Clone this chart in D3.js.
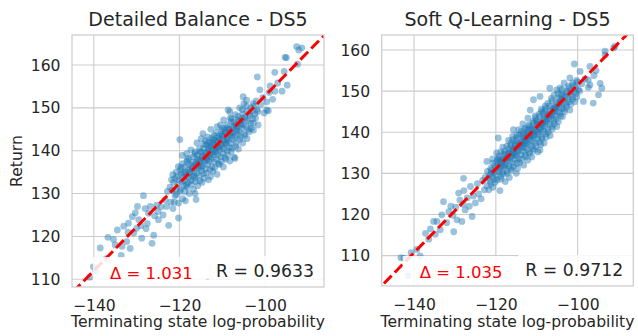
<!DOCTYPE html>
<html><head><meta charset="utf-8">
<script src="https://cdn.jsdelivr.net/npm/d3@7"></script>
<style>
body{margin:0;background:#fff;}
text{font-family:"DejaVu Sans",sans-serif;fill:#262626;}
</style></head>
<body>
<svg id="chart" width="638" height="336"></svg>
<script>
const titles = ["Detailed Balance - DS5", "Soft Q-Learning - DS5"];
const xLabel = "Terminating state log-probability";
const yLabel = "Return";
const xTicks = [-140, -120, -100];
const yTicks = [110, 120, 130, 140, 150, 160];
const deltaLabels = ["\u0394 = 1.031", "\u0394 = 1.035"];
const rLabels = ["R = 0.9633", "R = 0.9712"];
const fitDB = [[-150, 101.8], [-80, 173.2]];
const fitSQL = [[-150, 100.5], [-80, 171.9]];

const dbPoints = [
[-141.0,110.5],[-140.1,112.9],[-139.5,111.9],[-138.5,117.3],[-137.1,114.8],[-136.7,119.8],[-135.4,119.3],[-135.0,118.0],[-133.6,115.6],[-133.4,117.7],
[-132.3,118.8],[-131.5,117.2],[-130.7,120.8],[-131.9,123.1],[-130.3,125.5],[-129.5,123.9],[-128.8,119.6],[-128.4,129.5],[-127.2,125.4],[-126.4,118.4],
[-126.0,120.3],[-125.3,127.3],[-124.9,123.9],[-123.3,128.5],[-122.5,122.6],[-120.2,124.3],[-118.6,128.3],[-116.3,130.0],[-116.1,128.6],
[-134.5,121.5],[-133.0,122.4],[-132.0,121.0],[-130.0,121.9],[-129.0,122.5],[-128.0,126.5],[-127.5,123.0],[-126.8,127.0],[-125.8,124.8],[-125.0,125.8],
[-124.3,126.9],[-123.8,125.0],[-123.0,127.0],[-122.8,130.5],[-122.0,128.0],[-121.5,126.5],[-121.0,129.5],[-127.8,121.8],[-129.8,127.0],[-131.0,124.6],
[-122.2,131.5],[-121.85,133.2],[-121.7,130.8],[-121.35,132.6],[-121.55,134.4],[-121.2,128.0],[-120.85,131.0],[-121.05,133.5],[-120.75,135.0],
[-120.7,129.8],[-120.35,132.2],[-120.55,134.0],[-120.25,136.3],[-120.2,127.8],[-119.85,130.5],[-120.05,133.2],[-119.75,135.5],[-119.9,142.6],
[-119.7,131.0],[-119.35,132.8],[-119.55,134.6],[-119.25,137.0],[-119.2,128.8],[-118.85,133.0],[-119.05,134.8],[-118.75,136.2],[-119.3,138.9],
[-118.7,130.5],[-118.35,132.0],[-118.55,135.0],[-118.25,137.5],[-118.2,131.5],[-117.85,133.8],[-118.05,135.4],[-117.75,136.8],[-118.3,139.3],
[-117.7,130.0],[-117.35,133.0],[-117.55,134.8],[-117.25,136.5],[-117.8,138.2],[-117.2,132.2],[-116.85,134.0],[-117.05,135.8],[-116.75,137.4],[-117.3,140.2],
[-116.7,131.0],[-116.35,133.6],[-116.55,135.2],[-116.25,136.8],[-116.8,138.6],[-116.2,132.8],[-115.85,134.8],[-116.05,136.5],[-115.75,138.0],[-116.3,139.7],[-115.9,141.8],
[-115.7,131.8],[-115.35,134.2],[-115.55,135.9],[-115.25,137.6],[-115.8,139.0],[-115.2,133.0],[-114.85,135.3],[-115.05,137.0],[-114.75,138.4],[-115.3,140.5],[-114.9,142.8],
[-114.7,132.6],[-114.35,134.6],[-114.55,136.5],[-114.25,138.0],[-114.8,139.6],[-114.4,141.5],[-114.5,144.0],
[-114.2,133.6],[-113.85,135.8],[-114.05,137.5],[-113.75,139.0],[-114.3,140.6],[-113.9,142.4],[-113.7,134.8],[-113.35,136.8],[-113.55,138.4],[-113.25,139.8],[-113.8,141.4],[-113.4,143.2],
[-113.2,133.2],[-112.85,135.6],[-113.05,137.6],[-112.75,139.2],[-113.3,140.5],[-112.9,142.0],[-112.7,134.0],[-112.35,136.3],[-112.55,138.2],[-112.25,139.8],[-112.8,141.2],[-112.4,143.0],[-112.65,145.0],
[-112.2,135.2],[-111.85,137.4],[-112.05,139.0],[-111.75,140.4],[-112.3,141.8],[-111.9,143.6],[-111.7,136.0],[-111.35,138.0],[-111.55,139.6],[-111.25,141.0],[-111.8,142.5],[-111.4,144.2],
[-111.2,134.5],[-110.85,137.0],[-111.05,139.0],[-110.75,140.6],[-111.3,142.0],[-110.9,143.4],[-111.15,145.6],[-110.7,136.8],[-110.35,138.6],[-110.55,140.2],[-110.25,141.6],[-110.8,143.0],[-110.4,146.0],
[-110.2,137.5],[-109.85,139.4],[-110.05,141.0],[-109.75,142.4],[-110.3,143.8],[-109.9,145.2],[-109.7,136.2],[-109.35,138.4],[-109.55,140.4],[-109.25,142.0],[-109.8,143.4],[-109.4,145.0],[-109.65,147.2],
[-109.2,138.0],[-108.85,140.0],[-109.05,141.6],[-108.75,143.0],[-109.3,144.4],[-108.9,146.0],[-108.7,139.0],[-108.35,140.8],[-108.55,142.4],[-108.25,143.8],[-108.8,145.4],[-108.6,149.5],
[-108.2,137.6],[-107.85,139.8],[-108.05,141.8],[-107.75,143.5],[-108.3,145.0],[-107.9,146.8],
[-107.7,140.6],[-107.35,142.6],[-107.55,144.2],[-107.25,145.8],[-107.8,147.5],[-107.0,138.2],[-106.85,141.0],[-107.05,143.2],[-106.75,145.0],[-107.3,146.6],[-106.9,148.4],
[-106.7,141.8],[-106.35,143.8],[-106.55,145.6],[-106.25,147.2],[-106.2,140.4],[-105.85,142.6],[-106.05,144.6],[-105.75,146.2],[-106.3,148.0],[-105.9,150.0],
[-105.7,143.2],[-105.35,145.2],[-105.55,147.0],[-105.25,148.6],[-105.1,152.6],[-105.2,141.8],[-104.85,144.0],[-105.05,146.0],[-104.75,147.8],[-105.3,149.6],[-104.9,151.0],
[-104.7,143.6],[-104.35,145.6],[-104.55,147.4],[-104.25,149.2],[-104.3,151.8],[-104.2,142.8],[-103.85,145.0],[-104.05,147.0],[-103.75,148.6],[-104.3,150.4],
[-103.7,144.4],[-103.35,146.4],[-103.55,148.2],[-103.25,150.0],[-103.2,145.2],[-102.85,147.4],[-103.05,149.2],[-102.75,151.0],[-102.7,144.8],
[-102.7,146.4],[-102.35,148.6],[-102.55,150.4],[-102.2,147.6],[-101.85,149.6],[-102.05,151.6],
[-119.1,133.9],[-118.4,134.2],[-117.6,135.1],[-116.9,136.1],[-116.1,137.3],[-115.4,137.9],[-114.6,138.8],[-113.9,139.5],[-113.1,140.3],[-112.6,140.9],
[-111.9,141.3],[-111.2,142.2],[-110.6,142.6],[-109.9,143.5],[-109.1,144.2],[-108.4,144.9],[-107.6,145.3],[-106.8,146.1],[-106.1,146.9],[-105.4,147.6],
[-118.9,131.8],[-117.9,132.6],[-116.6,134.1],[-115.6,136.4],[-114.9,136.2],[-113.6,137.9],[-112.9,138.6],[-111.6,139.8],[-110.9,140.9],[-109.6,141.6],
[-108.9,142.7],[-107.9,144.1],[-106.6,144.6],[-105.6,146.2],[-119.6,136.1],[-118.1,137.9],[-116.4,139.2],[-115.1,139.8],[-113.4,141.8],[-112.1,142.6],
[-110.1,144.6],[-108.1,147.6],
[-101.7,149.1],[-101.6,146.0],[-101.2,154.2],[-101.8,157.2],[-101,150.8],[-100.5,152.4],[-100.2,148.8],[-99.6,151.4],[-99.6,149.5],[-99.2,149.3],
[-99,153.6],[-98.8,155.1],[-98.2,152.0],[-97.7,158.3],[-97.7,153.9],[-97.0,155.8],[-96.0,153.9],[-95.5,158.5],[-95.0,161.7],[-94.8,155.3],
[-92.4,160.2],[-92.1,163.5],[-91.4,164.0],[-108.2,149.1],[-107.2,138.5],[-95.3,161.8],[-92.6,164.3]
];

const sqlPoints = [
[-143.2,109.5],[-142.5,109.4],[-141.5,105.1],[-140.7,110.7],[-138.5,109.9],[-139.3,111.5],[-137.2,115.4],[-136.4,114.0],[-135.2,118.3],[-134.4,118.3],
[-133.6,116.3],[-133.2,119.9],[-132.8,123.1],[-131.5,120.7],[-130.3,115.8],[-129.5,118.7],[-129.1,125.2],[-128.3,118.3],[-127.5,121.1],[-125.8,119.5],
[-136.0,116.5],[-134.8,115.2],[-132.0,118.0],[-131.0,122.0],[-130.5,119.8],[-129.8,121.8],[-128.8,123.5],[-128.0,122.5],[-127.8,125.8],[-127.0,124.0],
[-126.5,122.0],[-126.2,126.8],[-125.5,124.5],[-125.0,122.8],[-124.5,127.5],[-124.2,125.0],[-123.6,123.8],[-123.2,128.3],[-122.8,126.0],[-122.2,132.9],[-127.9,128.8],
[-122.2,127.0],[-121.85,128.8],[-122.05,130.5],[-121.7,126.0],[-121.35,128.0],[-121.55,129.6],[-121.25,131.2],[-121.2,127.4],[-120.85,129.2],[-121.05,130.8],[-120.75,132.5],
[-120.7,126.6],[-120.35,128.6],[-120.55,130.2],[-120.25,131.8],[-120.8,133.5],[-120.2,127.8],[-119.85,129.6],[-120.05,131.2],[-119.75,132.8],
[-119.7,128.4],[-119.35,130.4],[-119.55,132.0],[-119.25,133.6],[-119.8,135.0],[-119.4,138.6],[-119.0,125.8],[-118.85,129.2],[-119.05,131.0],[-118.75,132.6],[-119.3,134.2],
[-118.7,128.6],[-118.35,130.2],[-118.55,131.8],[-118.25,133.4],[-118.8,135.2],[-118.2,129.8],[-117.85,131.5],[-118.05,133.0],[-117.75,134.6],[-118.3,136.4],
[-117.7,128.0],[-117.35,130.6],[-117.55,132.2],[-117.25,133.8],[-117.8,135.4],[-117.2,130.0],[-116.85,131.8],[-117.05,133.4],[-116.75,135.0],[-117.3,136.6],[-116.9,138.0],
[-116.7,129.0],[-116.35,131.2],[-116.55,133.0],[-116.25,134.6],[-116.8,136.0],[-116.2,130.8],[-115.85,132.6],[-116.05,134.2],[-115.75,135.8],[-116.3,137.4],[-115.9,139.0],
[-115.7,131.6],[-115.35,133.4],[-115.55,135.0],[-115.25,136.6],[-115.8,138.2],[-115.7,140.6],[-115.0,130.0],[-114.85,132.4],[-115.05,134.2],[-114.75,135.8],[-115.3,137.2],[-114.9,139.2],
[-114.7,131.2],[-114.35,133.6],[-114.55,135.4],[-114.25,137.0],[-114.8,138.6],[-114.4,140.6],
[-114.2,132.6],[-113.85,134.6],[-114.05,136.4],[-113.75,137.8],[-114.3,139.4],[-113.7,133.4],[-113.35,135.4],[-113.55,137.0],[-113.25,138.6],[-113.8,140.2],[-113.4,142.0],
[-113.2,132.0],[-112.85,134.4],[-113.05,136.2],[-112.75,137.8],[-113.3,139.2],[-112.9,141.0],[-112.7,134.0],[-112.35,135.8],[-112.55,137.4],[-112.25,139.0],[-112.8,140.6],
[-112.2,133.2],[-111.85,135.2],[-112.05,137.0],[-111.75,138.6],[-112.3,140.0],[-111.9,141.8],[-112.15,143.4],[-111.7,134.8],[-111.35,136.6],[-111.55,138.2],[-111.25,139.8],[-111.8,141.4],[-111.6,145.4],
[-111.2,134.0],[-110.85,136.0],[-111.05,137.8],[-110.75,139.4],[-111.3,141.0],[-110.9,142.6],[-110.8,147.9],[-110.7,135.6],[-110.35,137.4],[-110.55,139.0],[-110.25,140.6],[-110.8,142.2],[-110.4,144.0],
[-110.2,136.6],[-109.85,138.4],[-110.05,140.2],[-109.75,141.8],[-110.3,143.4],[-109.7,135.2],[-109.35,137.6],[-109.55,139.4],[-109.25,141.0],[-109.8,142.6],[-109.4,144.4],[-109.2,135.7],[-109.2,148.7],
[-109.0,137.0],[-108.85,138.8],[-109.05,140.6],[-108.75,142.2],[-109.3,143.8],[-108.9,145.6],[-108.7,138.4],[-108.35,140.2],[-108.55,141.8],[-108.25,143.4],[-108.8,145.0],
[-108.2,137.4],[-107.85,139.6],[-108.05,141.4],[-107.75,143.0],[-108.3,144.6],[-107.9,146.4],[-107.7,138.8],[-107.35,140.8],[-107.55,142.6],[-107.25,144.2],[-107.8,145.8],
[-107.2,140.0],[-106.85,142.0],[-107.05,143.6],[-106.75,145.2],[-107.3,147.0],[-106.7,139.2],[-106.35,141.4],[-106.55,143.2],[-106.25,144.8],[-106.8,146.4],[-106.4,148.2],
[-106.2,140.8],[-105.85,142.8],[-106.05,144.4],[-105.75,146.0],[-106.3,147.6],
[-105.7,142.0],[-105.35,144.0],[-105.55,145.6],[-105.25,147.2],[-105.8,149.0],[-105.1,141.4],[-105.1,150.3],[-105.2,143.2],[-104.85,145.0],[-105.05,146.6],[-104.75,148.2],
[-104.7,142.6],[-104.35,144.6],[-104.55,146.2],[-104.25,147.8],[-104.8,149.4],[-104.2,144.0],[-103.85,145.8],[-104.05,147.4],[-103.75,149.0],[-104.3,150.8],
[-103.7,143.8],[-103.35,145.6],[-103.55,147.2],[-103.25,148.8],[-103.8,150.4],[-103.2,145.0],[-102.85,146.8],[-103.05,148.4],[-102.75,150.0],[-103.3,152.0],
[-102.7,146.2],[-102.35,148.0],[-102.55,149.6],[-102.25,151.2],[-102.2,147.4],[-101.85,149.2],[-102.05,150.8],[-101.9,145.4],[-101.9,153.2],
[-101.7,146.8],[-101.35,148.6],[-101.55,150.2],[-101.25,152.0],[-101.2,148.0],[-100.85,149.8],[-101.05,151.4],[-100.7,147.4],[-100.35,149.4],[-100.55,151.0],[-100.25,152.6],
[-100.2,148.6],[-99.85,150.4],[-100.05,152.2],
[-119.1,132.9],[-118.4,133.2],[-117.6,133.7],[-116.9,134.9],[-116.1,135.6],[-115.4,136.0],[-114.6,136.9],[-113.9,137.6],[-113.1,138.0],[-112.6,138.9],
[-111.9,139.5],[-111.2,140.6],[-110.6,140.9],[-109.9,141.9],[-109.1,142.0],[-108.4,143.0],[-107.6,144.0],[-106.8,144.4],[-106.1,145.7],[-105.4,146.0],
[-104.6,146.9],[-103.9,148.0],[-118.9,131.5],[-117.9,132.0],[-116.6,133.9],[-115.6,134.5],[-114.9,135.0],[-113.6,136.3],[-112.9,137.2],[-111.6,139.0],
[-110.9,139.2],[-109.6,140.0],[-108.9,141.2],[-107.9,142.4],[-106.6,144.0],[-105.6,145.2],[-119.6,133.4],[-118.1,134.8],[-116.4,136.8],[-115.1,137.9],
[-113.4,139.6],[-112.1,140.6],[-110.1,142.8],[-108.1,145.2],[-104.1,149.2],[-121.1,130.1],[-122.6,129.0],
[-106.8,150.7],[-100.8,156.6],[-99.4,154.8],[-99.5,150.0],[-99,151.8],[-98.6,147.5],[-98.2,153.0],[-97.4,150.9],[-97.4,152.7],[-97.0,156.0],
[-97.0,151.5],[-96.2,147.1],[-96,153.8],[-94.9,149.1],[-94.5,151.9],[-94.1,150.7],[-93.3,159.7],[-93.3,158.8],[-91.2,160.5],[-90.9,160.9],[-95.5,155.0]
];

const panels = [
  {title: titles[0], points: dbPoints, fit: fitDB, delta: deltaLabels[0], r: rLabels[0],
   xDomain: [-145.1, -86.2], yDomain: [108.2, 167.0], x0: 72, x1: 324, y0: 35, y1: 287, showY: true},
  {title: titles[1], points: sqlPoints, fit: fitSQL, delta: deltaLabels[1], r: rLabels[1],
   xDomain: [-147.9, -86.4], yDomain: [102.6, 163.65], x0: 381.7, x1: 633.3, y0: 35, y1: 286, showY: false}
];

const svg = d3.select("#chart");
const gridColor = "#cccccc";

panels.forEach((p, i) => {
  const x = d3.scaleLinear().domain(p.xDomain).range([p.x0, p.x1]);
  const y = d3.scaleLinear().domain(p.yDomain).range([p.y1, p.y0]);
  const g = svg.append("g");
  const clipId = "clip" + i;
  svg.append("clipPath").attr("id", clipId).append("rect")
    .attr("x", p.x0).attr("y", p.y0).attr("width", p.x1 - p.x0).attr("height", p.y1 - p.y0);

  g.append("g").selectAll("line").data(xTicks).join("line")
    .attr("x1", d => x(d)).attr("x2", d => x(d)).attr("y1", p.y0).attr("y2", p.y1)
    .attr("stroke", gridColor).attr("stroke-width", 1.1);
  g.append("g").selectAll("line").data(yTicks).join("line")
    .attr("y1", d => y(d)).attr("y2", d => y(d)).attr("x1", p.x0).attr("x2", p.x1)
    .attr("stroke", gridColor).attr("stroke-width", 1.1);

  g.append("g").attr("clip-path", `url(#${clipId})`).selectAll("circle").data(p.points).join("circle")
    .attr("cx", d => x(d[0])).attr("cy", d => y(d[1])).attr("r", 3.4)
    .attr("fill", "#1f77b4").attr("fill-opacity", 0.45);

  g.append("line").attr("clip-path", `url(#${clipId})`)
    .attr("x1", x(p.fit[0][0])).attr("y1", y(p.fit[0][1]))
    .attr("x2", x(p.fit[1][0])).attr("y2", y(p.fit[1][1]))
    .attr("stroke", "#ff0000").attr("stroke-width", 3).attr("stroke-dasharray", "11,4.5");

  const tb = g.append("g").attr("clip-path", `url(#${clipId})`);
  const dRect = tb.append("rect");
  const rRect = tb.append("rect");
  const dText = tb.append("text").attr("x", p.x0 + 38).attr("y", p.y1 - 8)
    .attr("font-size", 16.5).style("fill", "#ff0000").text(p.delta);
  const rText = tb.append("text").attr("x", p.x1 - 10).attr("y", p.y1 - 10)
    .attr("text-anchor", "end").attr("font-size", 17.3).text(p.r);
  const db = dText.node().getBBox();
  dRect.attr("x", db.x - 17).attr("y", p.y1 - 30).attr("width", db.width + 30).attr("height", 32)
    .attr("fill", "#fff").attr("fill-opacity", 0.85);
  const rb = rText.node().getBBox();
  rRect.attr("x", rb.x - 7).attr("y", p.y1 - 31).attr("width", rb.width + 30).attr("height", 33)
    .attr("fill", "#fff").attr("fill-opacity", 0.85);

  g.append("rect").attr("x", p.x0).attr("y", p.y0).attr("width", p.x1 - p.x0).attr("height", p.y1 - p.y0)
    .attr("fill", "none").attr("stroke", gridColor).attr("stroke-width", 1.25);

  const xa = g.append("g").attr("transform", `translate(0,${p.y1})`)
    .call(d3.axisBottom(x).tickValues(xTicks).tickSize(0).tickPadding(12.5).tickFormat(d3.format("d")));
  xa.select(".domain").remove();
  xa.selectAll("text").attr("font-size", 15.6).attr("font-family", "DejaVu Sans").style("fill", "#262626");

  const ya = g.append("g").attr("transform", `translate(${p.x0},0)`)
    .call(d3.axisLeft(y).tickValues(yTicks).tickSize(0).tickPadding(11.5).tickFormat(d3.format("d")));
  ya.select(".domain").remove();
  ya.selectAll("text").attr("font-size", 15.6).attr("font-family", "DejaVu Sans").style("fill", "#262626");

  g.append("text").attr("x", (p.x0 + p.x1) / 2).attr("y", 26).attr("text-anchor", "middle")
    .attr("font-size", 19).text(p.title);
  g.append("text").attr("x", (p.x0 + p.x1) / 2).attr("y", 327).attr("text-anchor", "middle")
    .attr("font-size", 15.6).text(xLabel);
  if (p.showY) {
    g.append("text").attr("transform", `translate(21.5,${(p.y0 + p.y1) / 2}) rotate(-90)`)
      .attr("text-anchor", "middle").attr("font-size", 15.6).text(yLabel);
  }
});
</script>
</body></html>
